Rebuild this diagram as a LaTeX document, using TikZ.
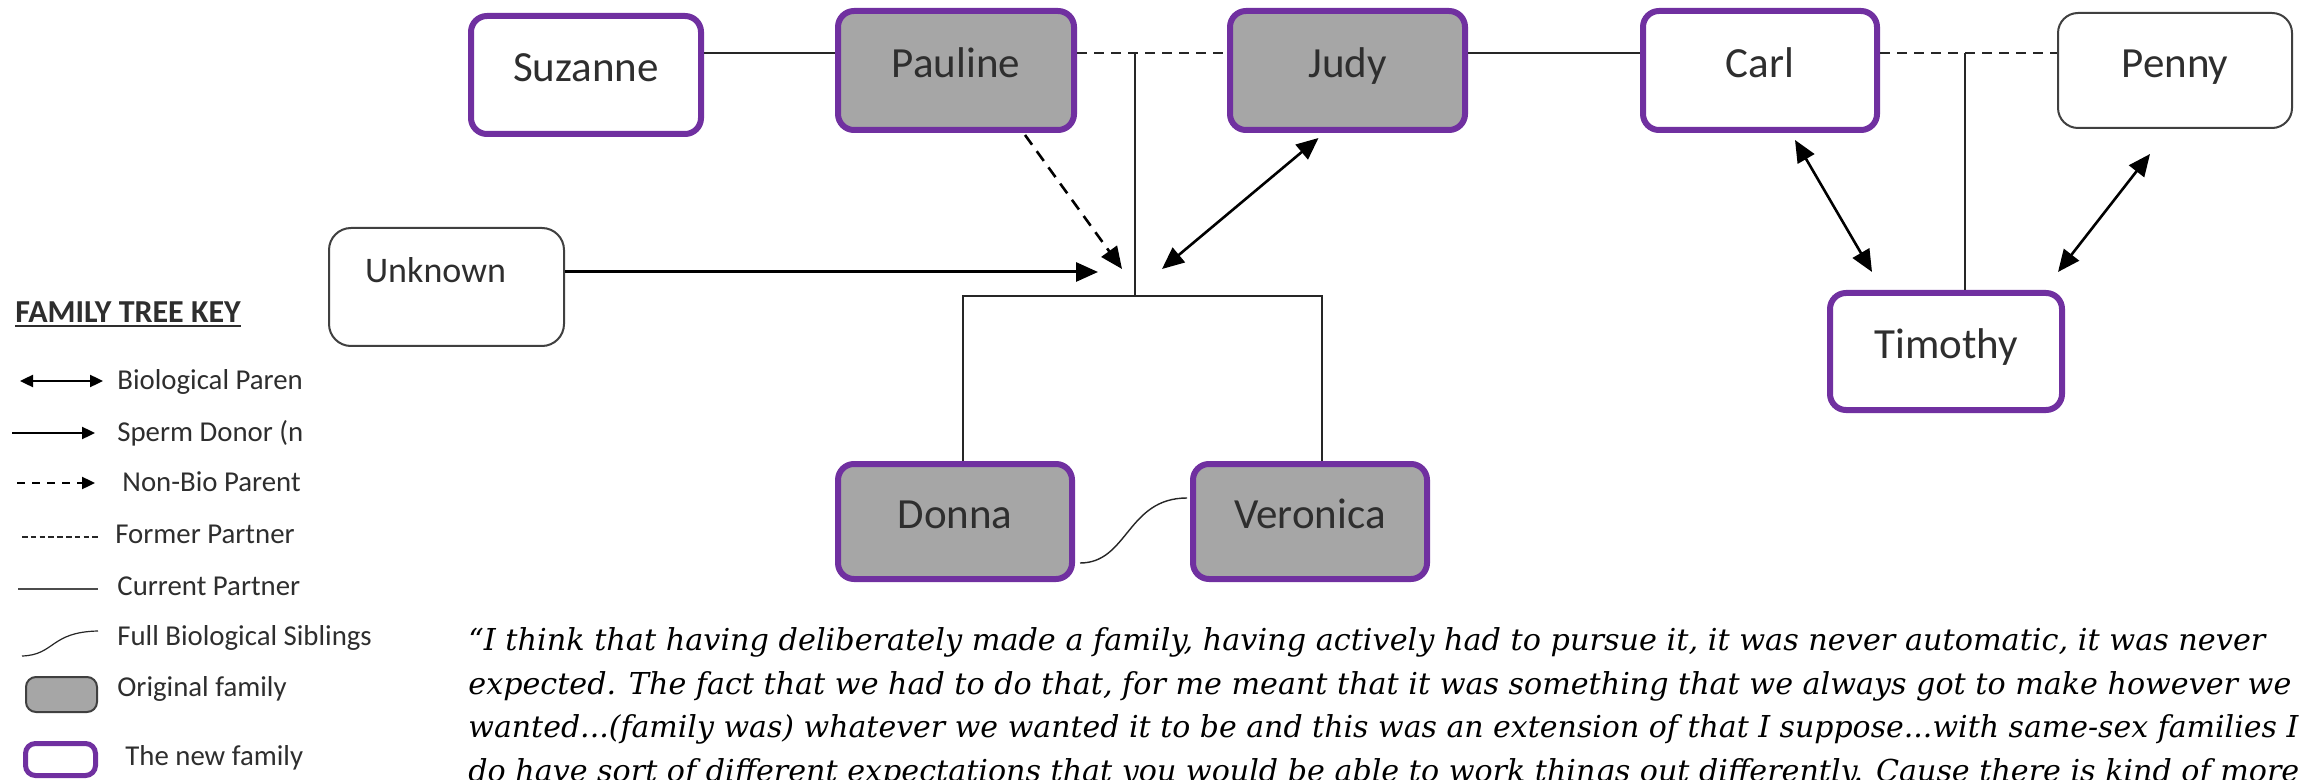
\documentclass[tikz,border=0pt]{standalone}
\usepackage{fontspec}
\setmainfont{Carlito}
\newfontfamily\quotefont{DejaVu Serif}
\usetikzlibrary{arrows.meta,calc}
\definecolor{newpurple}{HTML}{7030A0}
\definecolor{origgray}{HTML}{A6A6A6}
\definecolor{boxline}{HTML}{404040}
\definecolor{txt}{HTML}{2E2E2E}
\newcommand\nmfont{\fontsize{21.5pt}{24pt}\selectfont}
\newcommand\lgfont{\fontsize{14.4pt}{17pt}\selectfont}
\newcommand\qtfont{\quotefont\itshape\fontsize{15.1pt}{18pt}\selectfont}
\newcommand\qlineone{“I think that having deliberately made a family, having actively had to pursue it, it was never automatic, it was never}
\newcommand\qlinetwo{expected. The fact that we had to do that, for me meant that it was something that we always got to make however we}
\newcommand\qlinethree{wanted...(family was) whatever we wanted it to be and this was an extension of that I suppose...with same-sex families I}
\newcommand\qlinefour{do have sort of different expectations that you would be able to work things out differently. Cause there is kind of more}
\newlength\qlw
\begin{document}
\settowidth{\qlw}{\qtfont\qlineone}%
\pgfmathsetmacro\qscaleA{898.5/\qlw}%
\settowidth{\qlw}{\qtfont\qlinetwo}%
\pgfmathsetmacro\qscaleB{911.5/\qlw}%
\settowidth{\qlw}{\qtfont\qlinethree}%
\pgfmathsetmacro\qscaleC{915/\qlw}%
\pgfmathsetmacro\qscaleD{(\qscaleA+\qscaleB+\qscaleC)/3}%
\begin{tikzpicture}[x=0.5pt,y=-0.5pt,
  newbox/.style={draw=newpurple, line width=3pt, rounded corners=8pt, fill=white,
    font=\nmfont, text=txt, inner sep=0pt, text height=12pt, text depth=5pt},
  origbox/.style={newbox, fill=origgray},
  plainbox/.style={draw=boxline, line width=1pt, rounded corners=10pt, fill=white,
    font=\nmfont, text=txt, inner sep=0pt, text height=12pt, text depth=5pt},
  partner/.style={draw=black!85, line width=1pt},
  formerdash/.style={dash pattern=on 5pt off 3.5pt},
  stem/.style={draw=black!85, line width=0.8pt},
  bioarrow/.style={draw=black, line width=1.3pt, {Triangle[length=11pt,width=9.5pt]}-{Triangle[length=11pt,width=9.5pt]}},
  donorarrow/.style={draw=black, line width=1.5pt, -{Triangle[length=11pt,width=9.5pt]}},
  nonbioarrow/.style={draw=black, line width=1.3pt, dash pattern=on 6pt off 4pt, -{Triangle[length=11pt,width=9.5pt]}},
  sibline/.style={draw=black!85, line width=0.7pt},
  legtext/.style={anchor=base west, inner sep=0pt, font=\lgfont, text=txt},
  legbio/.style={draw=black, line width=1.2pt, {Triangle[length=6.5pt,width=6pt]}-{Triangle[length=6.5pt,width=6pt]}},
  legdonor/.style={draw=black, line width=1.2pt, -{Triangle[length=6.5pt,width=6pt]}},
  legnonbio/.style={draw=black, line width=1.2pt, dash pattern=on 4pt off 3.5pt, -{Triangle[length=6.5pt,width=6pt]}},
  quoteline/.style={anchor=base west, inner sep=0pt, text=black}
]
\useasboundingbox (0,0) rectangle (2305,780);
\clip (0,0) rectangle (2305,780);
\fill[white] (0,0) rectangle (2305,780);

% ---------- people ----------
\node[newbox, minimum width=115pt, minimum height=59pt] (suzanne) at (586,75) {Suzanne};
\node[origbox, minimum width=118pt, minimum height=59.5pt] (pauline) at (956,70.5) {Pauline};
\node[origbox, minimum width=117.5pt, minimum height=59.5pt] (judy) at (1347.5,70.5) {Judy};
\node[newbox, minimum width=117pt, minimum height=59.5pt] (carl) at (1760,70.5) {Carl};
\node[plainbox, minimum width=117pt, minimum height=57.5pt] (penny) at (2175,70.5) {Penny};
\node[plainbox, rounded corners=11pt, minimum width=117.5pt, minimum height=59pt,
      font=\fontsize{18pt}{21pt}\selectfont, text height=4pt, text depth=8pt] (unknown) at (446.5,287) {Unknown\hspace*{11pt}};
\node[newbox, minimum width=116pt, minimum height=58.5pt] (timothy) at (1946,351.5) {Timothy};
\node[origbox, minimum width=117pt, minimum height=57.5pt] (donna) at (955,521.5) {Donna};
\node[origbox, minimum width=117pt, minimum height=57.5pt] (veronica) at (1310,521.5) {Veronica};

% ---------- helper coordinates ----------
\coordinate (topline) at (0,53);
\coordinate (pjstem) at (1135,53);
\coordinate (famjoin) at (1135,296);
\coordinate (donnadrop) at (963,296);
\coordinate (verdrop) at (1322,296);
\coordinate (cpstem) at (1965,53);
\coordinate (unkTip) at (1098,272);
\coordinate (paulTip) at (1122,269);
\coordinate (judyTip) at (1162,269);
\coordinate (carlTip) at (1872,272);
\coordinate (pennyTip) at (2058,272);

% ---------- partner lines ----------
\draw[partner] (suzanne.east |- topline) -- (pauline.west |- topline);
\draw[partner, formerdash] (pauline.east |- topline) -- (judy.west |- topline);
\draw[partner] (judy.east |- topline) -- (carl.west |- topline);
\draw[partner, formerdash] (carl.east |- topline) -- (penny.west |- topline);

% ---------- descent lines ----------
\draw[stem] (pjstem) -- (famjoin);
\draw[stem] (donna.north -| donnadrop) -- (donnadrop) -- (verdrop) -- (veronica.north -| verdrop);
\draw[stem] (cpstem) -- (timothy.north -| cpstem);

% ---------- parent arrows ----------
\draw[donorarrow] (unknown.east |- unkTip) -- (unkTip);
\draw[nonbioarrow] ($(pauline.south)+(69,2)$) -- (paulTip);
\draw[bioarrow] (judyTip) -- ($(judy.south)+(-29,5)$);
\draw[bioarrow] ($(carl.south)+(35,7)$) -- (carlTip);
\draw[bioarrow] (pennyTip) -- ($(penny.south)+(-25,25)$);

% ---------- siblings ----------
\draw[sibline] ($(donna.east)+(5,41.5)$) .. controls +(48,0) and +(-60,0) .. ($(veronica.west)+(-3,-23.5)$);

% ---------- key ----------
\node[anchor=base west, inner sep=0pt, font=\bfseries\fontsize{16pt}{19pt}\selectfont, text=txt] (keytitle) at (15,322) {FAMILY TREE KEY};
\draw[txt, line width=1pt] ([yshift=-2.2pt]keytitle.base west) -- ([yshift=-2.2pt]keytitle.base east);

\draw[legbio] (20,381) -- (103,381);
\node[legtext] (kbio) at (117,389) {Biological Paren};
\draw[legdonor] (12,433) -- (95,433);
\node[legtext] (kdonor) at (117,441) {Sperm Donor (n};
\draw[legnonbio] (17,483) -- (95,483);
\node[legtext] (knonbio) at (122,491) {Non-Bio Parent};
\draw[black!85, line width=0.6pt, dash pattern=on 2.8pt off 1.6pt] (22,537) -- (100,537);
\node[legtext] (kformer) at (115,543) {Former Partner};
\draw[black!70, line width=0.6pt] (18,589) -- (98,589);
\node[legtext] (kcurrent) at (117,595) {Current Partner};
\draw[black!85, line width=0.6pt] (22,656) .. controls (55,655) and (50,632) .. (98,631);
\node[legtext] (ksib) at (117,645) {Full Biological Siblings};
\node[draw=boxline, line width=1pt, fill=origgray, rounded corners=5pt, inner sep=0pt,
      minimum width=35.5pt, minimum height=17.5pt] (korigbox) at (61.5,694.5) {};
\node[legtext] (korig) at (117,696) {Original family};
\node[draw=newpurple, line width=2.5pt, fill=white, rounded corners=5pt, inner sep=0pt,
      minimum width=35pt, minimum height=16pt] (knewbox) at (60.5,759.5) {};
\node[legtext] (knew) at (125,765) {The new family};

% ---------- quote ----------
\node[quoteline] (q1) at (468,650) {\scalebox{\qscaleA}[1]{\qtfont\qlineone}};
\node[quoteline] (q2) at (468,694) {\scalebox{\qscaleB}[1]{\qtfont\qlinetwo}};
\node[quoteline] (q3) at (468,737) {\scalebox{\qscaleC}[1]{\qtfont\qlinethree}};
\node[quoteline] (q4) at (468,781) {\scalebox{\qscaleD}[1]{\qtfont\qlinefour}};
\end{tikzpicture}
\end{document}
